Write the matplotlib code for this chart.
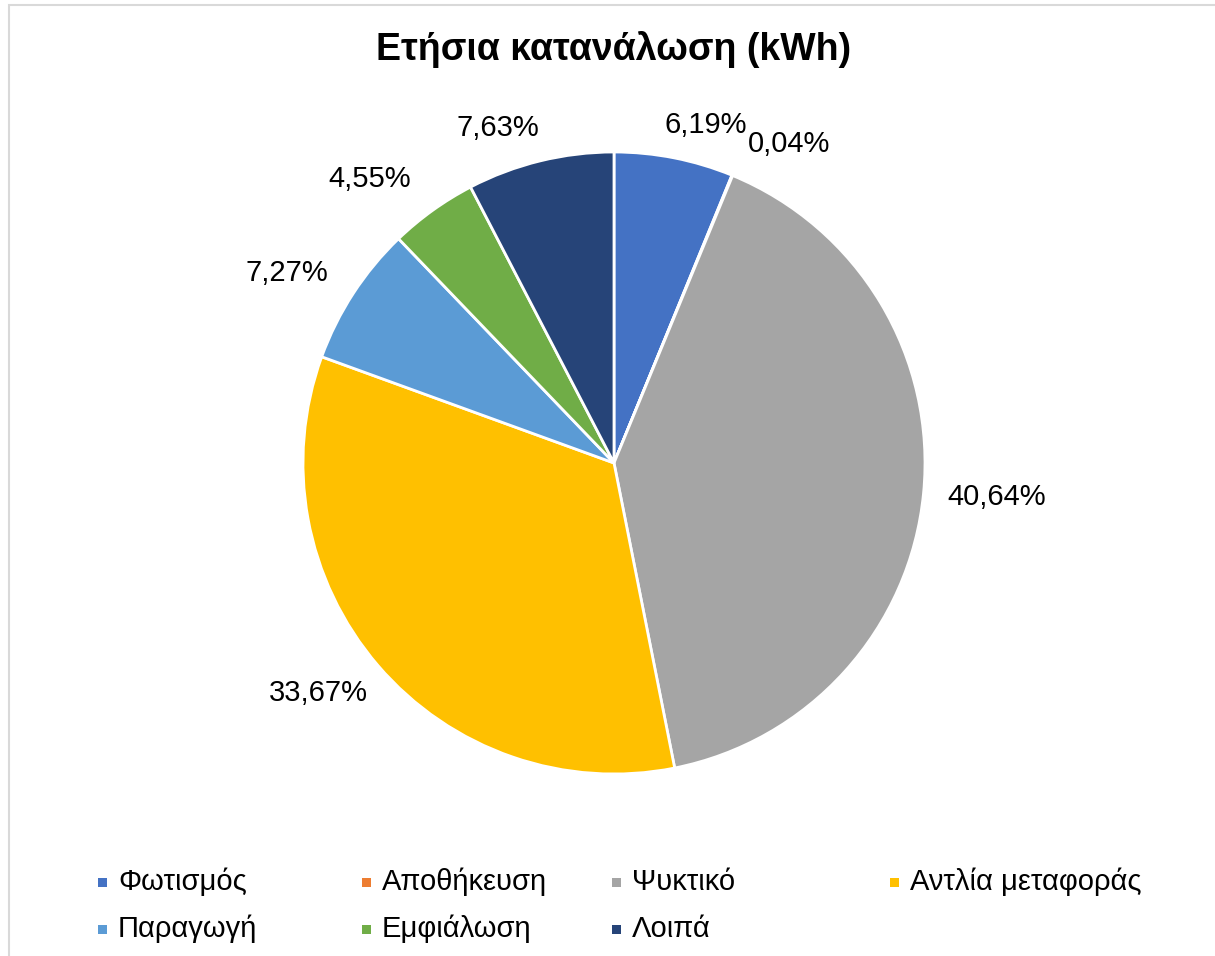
import matplotlib
matplotlib.use("Agg")
import matplotlib.pyplot as plt
from matplotlib.patches import Rectangle
import numpy as np

plt.rcParams["font.family"] = ["Liberation Sans", "DejaVu Sans"]

# δεδομένα
categories = ["Φωτισμός", "Αποθήκευση", "Ψυκτικό", "Αντλία μεταφοράς",
              "Παραγωγή", "Εμφιάλωση", "Λοιπά"]
shares = [6.19, 0.04, 40.64, 33.67, 7.27, 4.55, 7.63]
colors = ["#4472C4", "#ED7D31", "#A5A5A5", "#FFC000",
          "#5B9BD5", "#70AD47", "#264478"]
title = "Ετήσια κατανάλωση (kWh)"

# θέσεις ετικετών (απόσταση, μετατόπιση γωνίας) όπως στο Excel
label_r = [1.125, 1.17, 1.235, 1.205, 1.215, 1.205, 1.14]
label_dang = [-4.1, -6.4, 0.5, -2.7, 2.9, 5.0, 5.3]

W, H = 1215, 956
fig = plt.figure(figsize=(W / 100, H / 100), dpi=100)

# περίγραμμα γραφήματος
fig.patches.append(Rectangle((9 / W, -0.05), 1.1, 1 - 5 / H + 0.05,
                             transform=fig.transFigure, fill=False,
                             edgecolor="#D9D9D9", linewidth=1.5))

fig.text(614 / W, 1 - 50 / H, title, ha="center", va="center",
         fontsize=27, fontweight="bold")

R = 311
cx, cy = 614, H - 463
lim = 1.4
side = 2 * lim * R
ax = fig.add_axes([(cx - side / 2) / W, (cy - side / 2) / H, side / W, side / H])
wedges, _ = ax.pie(shares, colors=colors, startangle=90, counterclock=False,
                   radius=1, wedgeprops=dict(edgecolor="white", linewidth=2))
ax.set_xlim(-lim, lim)
ax.set_ylim(-lim, lim)
ax.set_aspect("equal")
ax.axis("off")

for w, v, r, da in zip(wedges, shares, label_r, label_dang):
    ang = np.deg2rad((w.theta1 + w.theta2) / 2 + da)
    ax.text(r * np.cos(ang), r * np.sin(ang), f"{v:.2f}%".replace(".", ","),
            ha="center", va="center", fontsize=21)

# υπόμνημα
col_x = [98, 362, 612, 890]
row_y = [882, 929]
for i, (name, c) in enumerate(zip(categories, colors)):
    x = col_x[i % 4]
    y = row_y[i // 4]
    fig.patches.append(Rectangle((x / W, (H - y - 4.5) / H), 9 / W, 9 / H,
                                 transform=fig.transFigure, facecolor=c,
                                 edgecolor="none"))
    fig.text((x + 20) / W, (H - y) / H, name, ha="left", va="center",
             fontsize=21)

fig.savefig("out.png", dpi=100)
